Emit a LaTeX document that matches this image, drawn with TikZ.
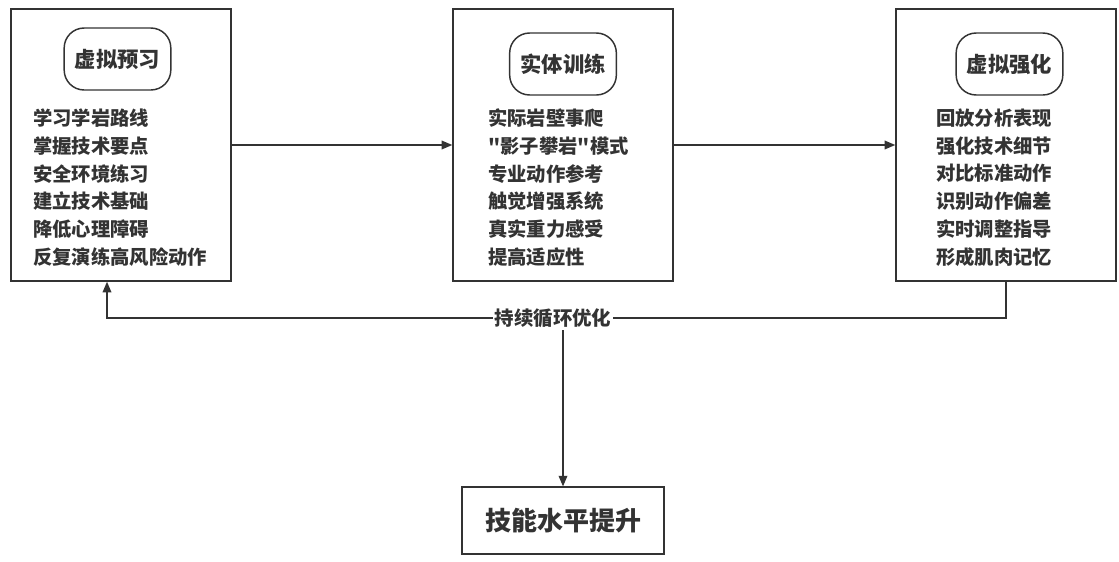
\documentclass[tikz,border=0pt]{standalone}
\usepackage{fontspec}
\setmainfont{Noto Sans CJK SC}[Ligatures=TeXOff]
\usepackage{xcolor}
\usetikzlibrary{arrows.meta}
\definecolor{inkgray}{HTML}{333333}

\tikzset{
  stage/.style={draw=inkgray, line width=1.1pt, minimum width=165pt, minimum height=204pt},
  pill/.style={draw=inkgray, line width=1.1pt, rounded corners=15pt, minimum width=80pt, minimum height=46.5pt, font=\fontsize{16}{18}\selectfont\bfseries},
  items/.style={anchor=west, align=left, inner sep=0pt, font=\fontsize{14.5}{20.8}\selectfont\bfseries},
  flow/.style={draw=inkgray, line width=1.1pt, -{Triangle[length=8pt,width=6.5pt]}}
}

\begin{document}
\begin{tikzpicture}[x=0.75pt,y=-0.75pt,color=inkgray]
        \useasboundingbox (0,0) rectangle (1119,561);
        \node[stage](s1) at (121,145) {};
        \node[stage](s2) at (563,145) {};
        \node[stage](s3) at (1006,145) {};
        \node[pill](p1) at (117.5,59) {虚拟预习};
        \node[pill](p2) at (563,64) {实体训练};
        \node[pill](p3) at (1009.5,64) {虚拟强化};
        \node[items](l1) at (33,187.5) {学习学岩路线\\掌握技术要点\\安全环境练习\\建立技术基础\\降低心理障碍\\反复演练高风险动作};
        \node[items](l2) at (488,187.5) {实际岩壁事爬\\"影子攀岩"模式\\专业动作参考\\触觉增强系统\\真实重力感受\\提高适应性};
        \node[items](l3) at (936,187.5) {回放分析表现\\强化技术细节\\对比标准动作\\识别动作偏差\\实时调整指导\\形成肌肉记忆};
        \node[draw=inkgray, line width=1.1pt, minimum width=151.5pt, minimum height=50pt, font=\fontsize{19.5}{22}\selectfont\bfseries](goal) at (563,520.5) {技能水平提升};
        \coordinate(c3) at (1006,318);
        \coordinate(c1) at (107,318);
        \draw[flow](s1)--(s2);
        \draw[flow](s2)--(s3);
        \draw[flow](s3.south)--(c3)--(c1)--(c1|-s1.south);
        \node[fill=white, inner xsep=1pt, inner ysep=2pt, font=\fontsize{14.6}{16}\selectfont\bfseries](loop) at (553,318) {持续循环优化};
        \draw[flow](loop.south-|goal)--(goal);
        \end{tikzpicture}
\end{document}
